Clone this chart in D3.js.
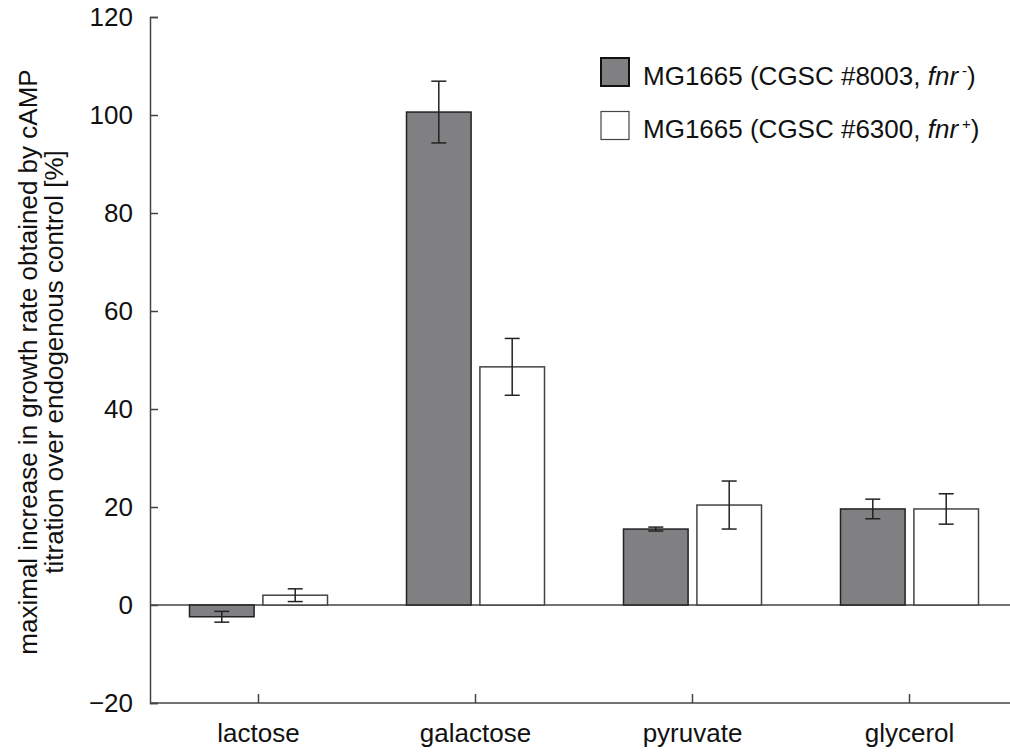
<!DOCTYPE html>
<html>
<head>
<meta charset="utf-8">
<script src="https://cdn.jsdelivr.net/npm/d3@7"></script>
<style>
  body { margin: 0; background: #fff; }
  text { font-family: "Liberation Sans", Arial, sans-serif; fill: #111; }
</style>
</head>
<body>
<div class="main"></div>
<script>
// data
var categories = ['lactose', 'galactose', 'pyruvate', 'glycerol'];
var strains    = ['8003', '6300'];
var fnrMinus   = [-2.4, 100.6, 15.5, 19.6];   // CGSC #8003
var fnrMinusErr = [1.1, 6.3, 0.4, 2.0];
var fnrPlus    = [2.0, 48.6, 20.4, 19.6];     // CGSC #6300
var fnrPlusErr = [1.3, 5.8, 4.9, 3.1];
var yTicks     = [-20, 0, 20, 40, 60, 80, 100, 120];

var width = 1010, height = 755, fs = 26;
var svg = d3.select('.main').append('svg')
    .attr('width', width)
    .attr('height', height);

var x = d3.scaleBand().domain(categories).range([150, 1018]);
var xs = d3.scaleBand().domain(strains).range([0, 138]).paddingInner(0.12);
var y = d3.scaleLinear().domain([-20, 120]).range([703, 17]);

var rows = [];
categories.forEach(function(c, i) {
    rows.push({cat: c, s: '8003', v: fnrMinus[i], e: fnrMinusErr[i]});
    rows.push({cat: c, s: '6300', v: fnrPlus[i], e: fnrPlusErr[i]});
});
var fills = {'8003': '#808083', '6300': '#ffffff'};

// zero line
svg.append('line')
    .attr('x1', 150).attr('x2', width)
    .attr('y1', y(0)).attr('y2', y(0))
    .attr('stroke', '#444').attr('stroke-width', 1.5);

// bars
var bx = function(d) { return x(d.cat) + x.bandwidth() / 2 - 69 + xs(d.s); };
svg.selectAll('rect.bar').data(rows).enter().append('rect')
    .attr('class', 'bar')
    .attr('x', bx)
    .attr('width', xs.bandwidth())
    .attr('y', d => y(Math.max(d.v, 0)))
    .attr('height', d => Math.abs(y(d.v) - y(0)))
    .attr('fill', d => fills[d.s])
    .attr('stroke', d => d.s === '8003' ? '#222' : '#444')
    .attr('stroke-width', 1.5);

// error bars
var eb = svg.selectAll('g.err').data(rows).enter().append('g')
    .attr('class', 'err')
    .attr('stroke', '#222').attr('stroke-width', 1.5);
eb.append('line')
    .attr('x1', d => bx(d) + xs.bandwidth() / 2).attr('x2', d => bx(d) + xs.bandwidth() / 2)
    .attr('y1', d => y(d.v + d.e)).attr('y2', d => y(d.v - d.e));
[1, -1].forEach(function(k) {
    eb.append('line')
        .attr('x1', d => bx(d) + xs.bandwidth() / 2 - 7.5)
        .attr('x2', d => bx(d) + xs.bandwidth() / 2 + 7.5)
        .attr('y1', d => y(d.v + k * d.e)).attr('y2', d => y(d.v + k * d.e));
});

// axes
var yAxis = svg.append('g')
    .attr('transform', 'translate(150,0)')
    .call(d3.axisLeft(y).tickValues(yTicks).tickSizeInner(-8).tickSizeOuter(-8).tickPadding(17)
        .tickFormat(d => d < 0 ? '\u2212' + Math.abs(d) : d));
yAxis.selectAll('text').attr('font-size', fs).attr('font-family', '"Liberation Sans", Arial, sans-serif').attr('fill', '#111');
yAxis.selectAll('line, path').attr('stroke', '#444').attr('stroke-width', 1.5);

var xAxis = svg.append('g')
    .attr('transform', 'translate(0,703)')
    .call(d3.axisBottom(x).tickSizeInner(-9).tickSizeOuter(0).tickPadding(21));
xAxis.selectAll('text').attr('font-size', fs).attr('font-family', '"Liberation Sans", Arial, sans-serif').attr('fill', '#111');
xAxis.selectAll('line, path').attr('stroke', '#444').attr('stroke-width', 1.5);
xAxis.select('path').attr('d', 'M150,0H' + width);

// y label
var yl = svg.append('text')
    .attr('transform', 'translate(0,362) rotate(-90)')
    .attr('text-anchor', 'middle')
    .attr('font-size', fs);
yl.append('tspan').attr('x', 0).attr('y', 37).text('maximal increase in growth rate obtained by cAMP');
yl.append('tspan').attr('x', 0).attr('y', 63).text('titration over endogenous control [%]');

// legend
var legend = [
    {s: '8003', num: '#8003', sign: '-'},
    {s: '6300', num: '#6300', sign: '+'}
];
var lg = svg.selectAll('g.leg').data(legend).enter().append('g')
    .attr('class', 'leg')
    .attr('transform', (d, i) => 'translate(601,' + (58 + i * 53.5) + ')');
lg.append('rect')
    .attr('width', 28).attr('height', 28)
    .attr('fill', d => fills[d.s])
    .attr('stroke', d => d.s === '8003' ? '#111' : '#444')
    .attr('stroke-width', d => d.s === '8003' ? 2 : 1.2);
var lt = lg.append('text').attr('x', 42).attr('y', 26.5).attr('font-size', fs);
lt.append('tspan').text(d => 'MG1665 (CGSC ' + d.num + ', ');
lt.append('tspan').attr('font-style', 'italic').text('fnr');
lt.append('tspan').attr('font-size', 15).attr('dy', -9).attr('dx', 4).text(d => d.sign);
lt.append('tspan').attr('dy', 9).text(')');
</script>
</body>
</html>
